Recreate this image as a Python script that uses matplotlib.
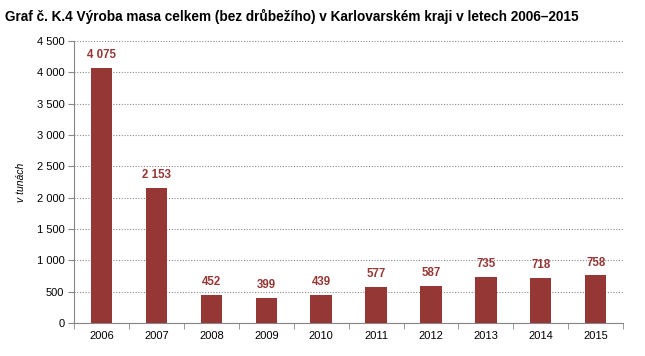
import matplotlib.pyplot as plt
from matplotlib.ticker import FuncFormatter, FixedLocator
import numpy as np

plt.rcParams['font.family'] = ['Liberation Sans', 'DejaVu Sans']

roky = ['2006', '2007', '2008', '2009', '2010', '2011', '2012', '2013', '2014', '2015']
vyroba = [4075, 2153, 452, 399, 439, 577, 587, 735, 718, 758]

def mezera(v, pos=None):
    return f'{int(v):,}'.replace(',', ' ')

fig = plt.figure(figsize=(6.45, 3.56), dpi=100)
ax = fig.add_axes([0.115, 0.093, 0.851, 0.792])

x = np.arange(len(roky))
ax.bar(x, vyroba, width=0.39, color='#953735', zorder=3)
for xi, v in zip(x, vyroba):
    ax.text(xi, v + 110, mezera(v), ha='center', va='bottom', fontsize=8.3,
            fontweight='bold', color='#953735')

ax.set_xlim(-0.5, len(roky) - 0.5)
ax.set_ylim(0, 4500)
ax.set_yticks(np.arange(0, 4501, 500))
ax.yaxis.set_major_formatter(FuncFormatter(mezera))
ax.set_xticks(x)
ax.set_xticklabels(roky)
ax.xaxis.set_minor_locator(FixedLocator(np.arange(-0.5, len(roky), 1)))
ax.tick_params(axis='x', which='major', length=0, labelsize=8, pad=6)
ax.tick_params(axis='x', which='minor', length=4, color='#868686')
ax.tick_params(axis='y', length=4, color='#868686', labelsize=8, pad=3)
ax.grid(axis='y', linestyle=(0, (1, 1.5)), color='#8c8c8c', linewidth=0.8, zorder=0)
for s in ['top', 'right']:
    ax.spines[s].set_visible(False)
for s in ['left', 'bottom']:
    ax.spines[s].set_color('#868686')
ax.set_ylabel('v tunách', fontsize=7.5, fontstyle='italic', labelpad=8)

fig.text(0.008, 0.955, 'Graf č. K.4 Výroba masa celkem (bez drůbežího) v Karlovarském kraji v letech 2006–2015',
         fontsize=9.8, fontweight='bold', ha='left', va='center')

fig.savefig('out.png', dpi=100)
